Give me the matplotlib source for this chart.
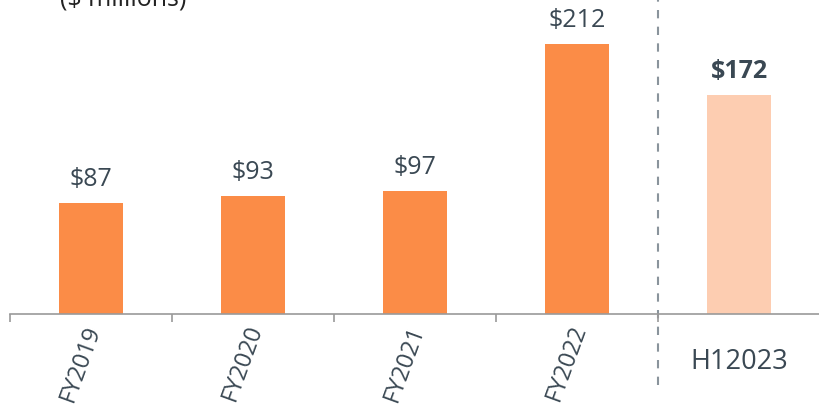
import matplotlib
matplotlib.use("Agg")
import matplotlib.pyplot as plt
import matplotlib.transforms as mtransforms
from matplotlib.ticker import FixedLocator

categories = ["FY2019", "FY2020", "FY2021", "FY2022", "H12023"]
values = [87, 93, 97, 212, 172]
value_labels = ["$87", "$93", "$97", "$212", "$172"]
title = "($ millions)"

plt.rcParams['font.family'] = ['Open Sans', 'DejaVu Sans']
W, H = 820, 409
fig = plt.figure(figsize=(W/100, H/100), dpi=100)
ax = fig.add_axes([10/W, 1-314/H, 810/W, 314/H])

orange = "#FB8C47"
light = "#FDCDB1"
txt = "#3A4853"
colors = [orange]*4 + [light]
x = list(range(len(categories)))
ax.bar(x, values, width=0.4, color=colors, zorder=2)

ax.set_xlim(-0.5, 4.5)
ax.set_ylim(0, 314/1.272)

for i, (v, lab) in enumerate(zip(values, value_labels)):
    bold = (i == 4)
    ax.annotate(lab, (i, v), xytext=(0, 8), textcoords="offset points",
                ha="center", va="bottom", fontsize=18, color=txt,
                fontweight="bold" if bold else "normal")

for s in ["top", "right", "left"]:
    ax.spines[s].set_visible(False)
ax.spines["bottom"].set_color("#9A9A9A")
ax.spines["bottom"].set_linewidth(1.2)
ax.set_yticks([])
ax.set_xticks(x)
ax.set_xticklabels([])
ax.tick_params(axis="x", which="major", length=0)
ax.xaxis.set_minor_locator(FixedLocator([-0.5, 0.5, 1.5, 2.5, 3.5, 4.5]))
ax.tick_params(axis="x", which="minor", length=6, color="#9A9A9A", width=1.2)

trans = mtransforms.blended_transform_factory(ax.transData, ax.transAxes)
off = mtransforms.ScaledTranslation(3/100, 0, fig.dpi_scale_trans)
for i, c in enumerate(categories[:4]):
    ax.text(i, -12/314, c, transform=trans + off, rotation=70,
            rotation_mode="anchor", ha="right", va="center",
            fontsize=17, color=txt)
ax.text(4, -48/314, categories[4], transform=trans, ha="center", va="center",
        fontsize=19.5, color=txt)

ax.plot([3.5, 3.5], [-(385-314)/314, 1.0], transform=trans, clip_on=False,
        color="#8A949C", linestyle=(0, (4, 4)), linewidth=1.5, zorder=1)

fig.text(60/W, 1-5/H, title, ha="left", va="baseline", fontsize=18, color="#222222")

fig.savefig("out.png", dpi=100)
